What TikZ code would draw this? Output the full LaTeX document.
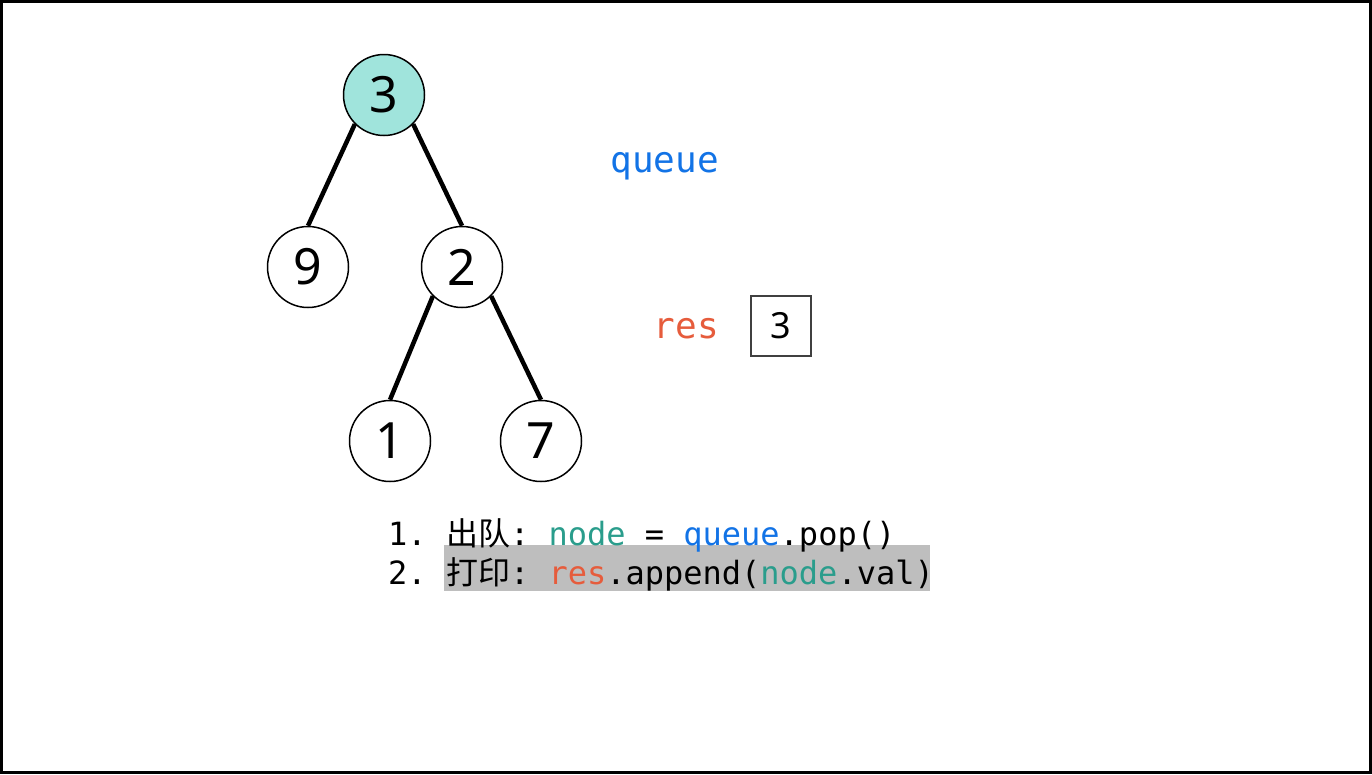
\documentclass[tikz,border=0pt]{standalone}
\usepackage{fontspec}
\setmainfont{Noto Sans}
\setmonofont{DejaVu Sans Mono}
\newfontfamily\cjk{Noto Sans CJK SC}
\definecolor{tealc}{RGB}{42,157,140}
\definecolor{bluec}{RGB}{18,115,230}
\definecolor{redc}{RGB}{230,92,60}
\definecolor{rootfill}{RGB}{160,228,220}
\definecolor{hl}{RGB}{190,190,190}
\tikzset{
  tnode/.style={circle,draw=black,line width=1.5pt,minimum size=81pt,inner sep=0pt,fill=white,font=\fontsize{50}{50}\selectfont},
  tedge/.style={line width=4.5pt},
  code/.style={anchor=base west,inner sep=0pt,font=\ttfamily\fontsize{32}{32}\selectfont},
  lab/.style={anchor=base east,inner sep=0pt,font=\ttfamily\fontsize{36}{36}\selectfont}
}
\begin{document}
\begin{tikzpicture}[x=1pt,y=-1pt]
\useasboundingbox (0,0) rectangle (1372,774);
\draw[line width=3pt] (1.5,1.5) rectangle (1370.5,772.5);
% tree
\node[tnode,fill=rootfill] (n3) at (384,95) {3};
\node[tnode] (n9) at (308,267) {9};
\node[tnode] (n2) at (462,267) {2};
\node[tnode] (n1) at (390,441) {1};
\node[tnode] (n7) at (541,441) {7};
\draw[tedge] (n3.south west) -- (n9.north);
\draw[tedge] (n3.south east) -- (n2.north);
\draw[tedge] (n2.south west) -- (n1.north);
\draw[tedge] (n2.south east) -- (n7.north);
% labels
\node[lab,text=bluec] (q) at (719,172) {queue};
\node[lab,text=redc] (r) at (719,338) {res};
\node[draw=black!75,line width=1.5pt,minimum width=60pt,minimum height=60pt,inner sep=0pt,font=\fontsize{36}{36}\selectfont] (b) at (781,326) {3};
% code
\node[fill=hl,anchor=north west,inner sep=0pt,minimum width=486pt,minimum height=46pt] (hlbox) at (444,545) {};
\node[code] (l1) at (388,545) {1. {\cjk 出队}: \textcolor{tealc}{node} = \textcolor{bluec}{queue}.pop()};
\node[code] (l2) at (388,584) {2. {\cjk 打印}: \textcolor{redc}{res}.append(\textcolor{tealc}{node}.val)};
\end{tikzpicture}
\end{document}
